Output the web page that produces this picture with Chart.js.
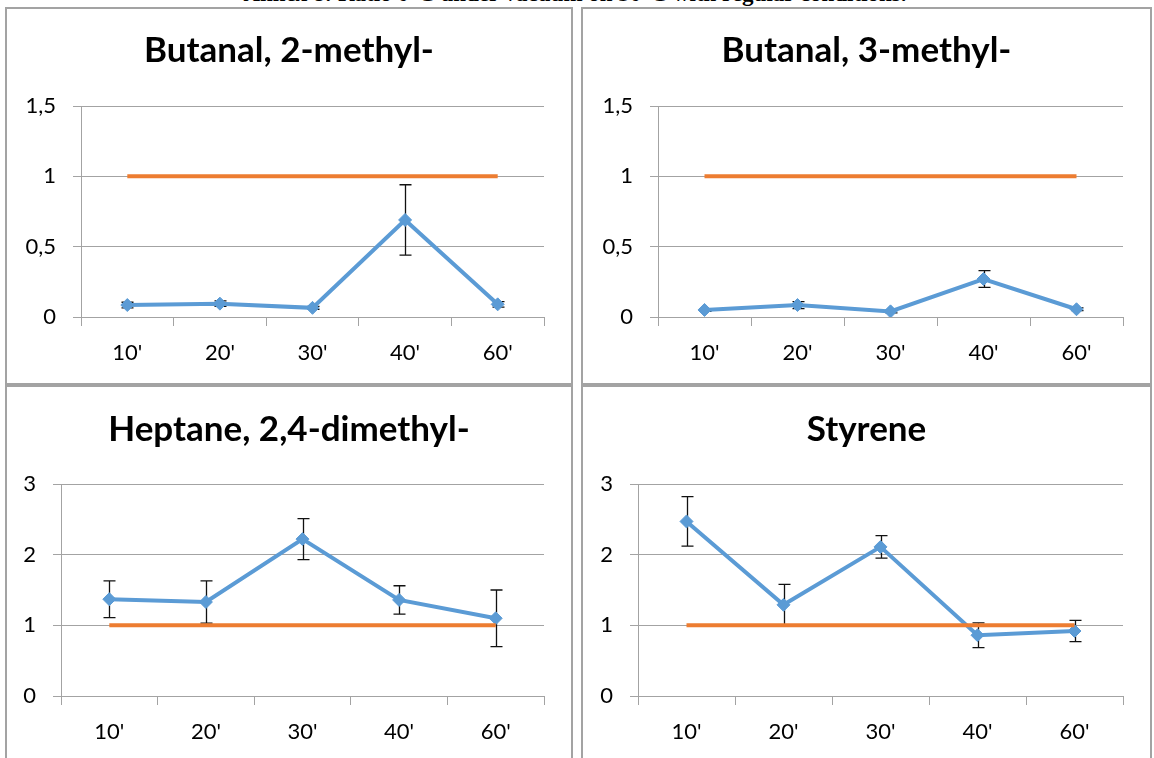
<!DOCTYPE html>
<html>
<head>
<meta charset="utf-8">
<script src="https://cdn.jsdelivr.net/npm/chart.js@4.4.1/dist/chart.umd.min.js"></script>
<style>
  html, body { margin: 0; padding: 0; background: #ffffff; overflow: hidden; }
  body { width: 1154px; height: 758px; position: relative; }
  .caption {
    position: absolute; left: 0; width: 1150px; top: -18px;
    text-align: center; font-family: "Liberation Serif", "Times New Roman", serif;
    font-weight: bold; font-size: 23px; line-height: 23px; color: #000;
    white-space: nowrap;
  }
  .panel { position: absolute; box-sizing: border-box; border: 2px solid #a3a3a3; background: #fff; }
  .panel canvas { position: absolute; left: 0; top: 0; }
</style>
</head>
<body>
<div class="caption">Annex 8: Ratio 0°C under vacuum on 30°C with regular conditions.</div>

<div class="panel" style="left:5px; top:7px; width:568px; height:378px;"><canvas id="butanal2" width="564" height="374"></canvas></div>
<div class="panel" style="left:581px; top:7px; width:571px; height:378px;"><canvas id="butanal3" width="567" height="374"></canvas></div>
<div class="panel" style="left:5px; top:385px; width:568px; height:378px;"><canvas id="heptane" width="564" height="374"></canvas></div>
<div class="panel" style="left:581px; top:385px; width:571px; height:378px;"><canvas id="styrene" width="567" height="374"></canvas></div>

<script>
// Sampling times
const categories = ["10'", "20'", "30'", "40'", "60'"];

// Ratio (0°C under vacuum / 30°C regular) and its standard deviation per compound
const butanal2Ratio = [0.085, 0.095, 0.065, 0.69, 0.09];
const butanal2Err   = [0.02, 0.02, 0.01, 0.25, 0.02];

const butanal3Ratio = [0.05, 0.085, 0.04, 0.27, 0.055];
const butanal3Err   = [0.01, 0.025, 0.01, 0.06, 0.01];

const heptaneRatio  = [1.37, 1.33, 2.22, 1.36, 1.10];
const heptaneErr    = [0.26, 0.30, 0.29, 0.20, 0.40];

const styreneRatio  = [2.47, 1.29, 2.11, 0.86, 0.92];
const styreneErr    = [0.35, 0.29, 0.16, 0.175, 0.15];

// Reference ratio of 1 (no change)
const referenceRatio = [1, 1, 1, 1, 1];

// Value-axis labels (decimal comma)
const yTicksLow  = ['0', '0,5', '1', '1,5'];
const yTicksHigh = ['0', '1', '2', '3'];

const BLUE = '#5b9bd5';
const ORANGE = '#ed7d31';
const GRID = '#a3a3a3';

// Draws vertical error bars with caps from each dataset's errorBars array
const errorBarPlugin = {
  id: 'errorBars',
  beforeDatasetsDraw(chart) {
    const ctx = chart.ctx;
    const xs = chart.scales.x, ys = chart.scales.y;
    chart.data.datasets.forEach((ds) => {
      if (!ds.errorBars) return;
      ctx.save();
      ctx.strokeStyle = '#111';
      ctx.lineWidth = 1.3;
      ds.data.forEach((v, i) => {
        const e = ds.errorBars[i];
        const x = Math.round(xs.getPixelForValue(i)) + 0.5;
        const yTop = ys.getPixelForValue(v + e);
        const yBot = ys.getPixelForValue(v - e);
        ctx.beginPath();
        ctx.moveTo(x, yTop); ctx.lineTo(x, yBot);
        ctx.moveTo(x - 6, yTop); ctx.lineTo(x + 6, yTop);
        ctx.moveTo(x - 6, yBot); ctx.lineTo(x + 6, yBot);
        ctx.stroke();
      });
      ctx.restore();
    });
  }
};

function makeChart(id, title, ratio, err, yMax, yStep, yLabels, layout) {
  new Chart(document.getElementById(id), {
    type: 'line',
    data: {
      labels: categories,
      datasets: [
        {
          data: referenceRatio,
          borderColor: ORANGE,
          borderWidth: 4,
          pointRadius: 0,
          pointHoverRadius: 0,
          borderCapStyle: 'butt',
          order: 0
        },
        {
          data: ratio,
          errorBars: err,
          borderColor: BLUE,
          backgroundColor: BLUE,
          borderWidth: 4,
          pointStyle: 'rectRot',
          pointRadius: 6.5,
          pointBorderWidth: 1,
          pointBackgroundColor: BLUE,
          pointBorderColor: BLUE,
          order: 1
        }
      ]
    },
    options: {
      responsive: false,
      animation: false,
      events: [],
      layout: { padding: 0 },
      plugins: {
        legend: { display: false },
        tooltip: { enabled: false },
        title: {
          display: true,
          text: title,
          color: '#000',
          font: { family: 'Lato', weight: 'bold', size: 35, lineHeight: 1.2 },
          padding: { top: layout.titleTop, bottom: layout.titleBottom }
        }
      },
      scales: {
        x: {
          offset: true,
          grid: {
            offset: true,
            drawOnChartArea: false,
            drawTicks: true,
            tickLength: 9,
            color: GRID,
            lineWidth: 1
          },
          border: { display: true, color: GRID, width: 1 },
          ticks: {
            color: '#000',
            padding: 14,
            maxRotation: 0,
            font: { family: 'Lato', size: 22 }
          },
          afterFit(scale) { scale.height = layout.xHeight; }
        },
        y: {
          min: 0,
          max: yMax,
          grid: {
            drawTicks: true,
            tickLength: 8,
            color: GRID,
            lineWidth: 1
          },
          border: { display: true, color: GRID, width: 1 },
          ticks: {
            stepSize: yStep,
            color: '#000',
            padding: 17,
            font: { family: 'Lato', size: 22 },
            callback: (value, index) => yLabels[index]
          },
          afterFit(scale) { scale.width = layout.yWidth; }
        },
        // empty right-hand margin so the plot stops short of the panel edge
        margin: {
          type: 'linear',
          position: 'right',
          display: true,
          grid: { display: false },
          border: { display: false },
          ticks: { display: false },
          afterFit(scale) { scale.width = 27; }
        }
      }
    },
    plugins: [errorBarPlugin]
  });
}

makeChart('butanal2', 'Butanal, 2-methyl-', butanal2Ratio, butanal2Err, 1.5, 0.5, yTicksLow,
  { yWidth: 74, xHeight: 66, titleTop: 20.5, titleBottom: 34.5 });
makeChart('butanal3', 'Butanal, 3-methyl-', butanal3Ratio, butanal3Err, 1.5, 0.5, yTicksLow,
  { yWidth: 75, xHeight: 66, titleTop: 20.5, titleBottom: 34.5 });
makeChart('heptane', 'Heptane, 2,4-dimethyl-', heptaneRatio, heptaneErr, 3, 1, yTicksHigh,
  { yWidth: 54, xHeight: 65, titleTop: 21.7, titleBottom: 33.3 });
makeChart('styrene', 'Styrene', styreneRatio, styreneErr, 3, 1, yTicksHigh,
  { yWidth: 55, xHeight: 65, titleTop: 21.7, titleBottom: 33.3 });
</script>
</body>
</html>
